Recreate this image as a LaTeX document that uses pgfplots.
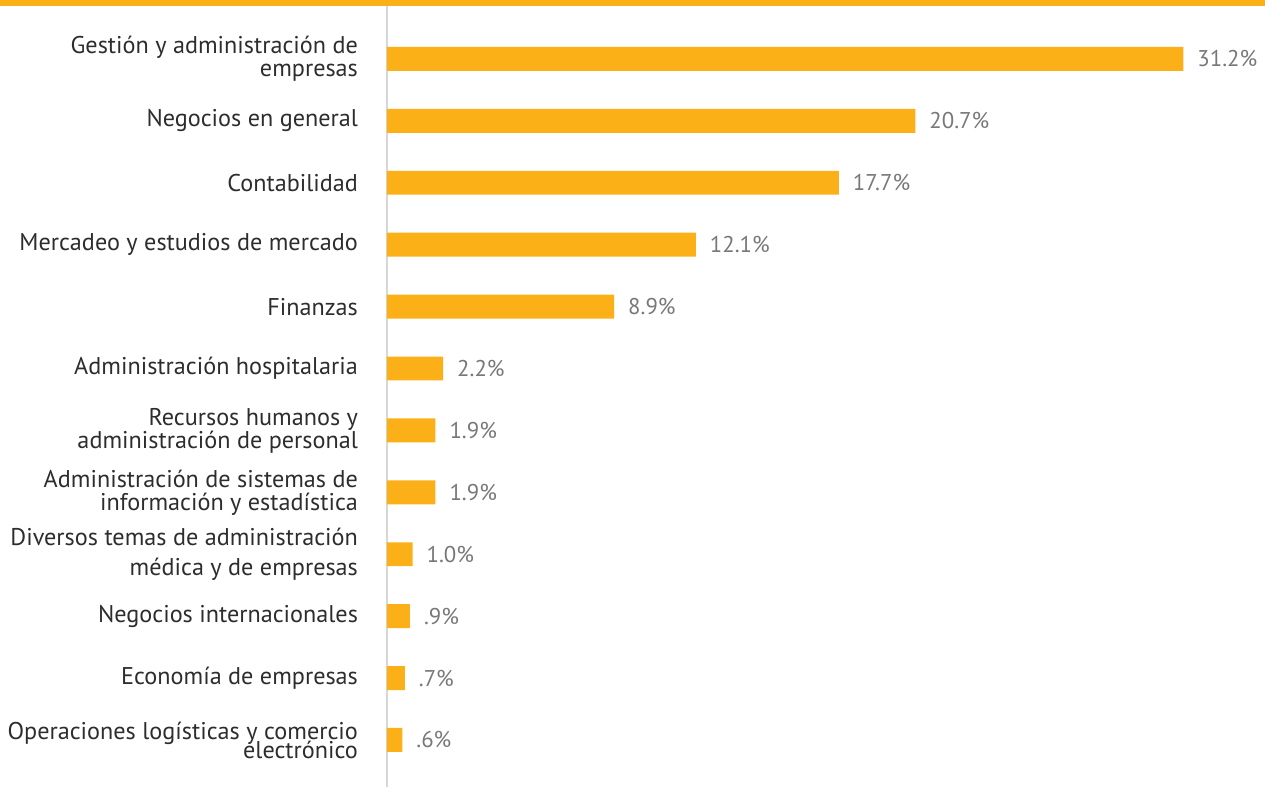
\documentclass[border=0pt]{standalone}
\usepackage{fontspec}
\setmainfont{PT Sans}
\usepackage{pgfplots}
\pgfplotsset{compat=1.18}
\definecolor{barorange}{RGB}{251,176,23}
\definecolor{labeltext}{RGB}{45,45,45}
\definecolor{valtext}{RGB}{120,120,120}
\definecolor{axisgray}{RGB}{215,215,215}

\begin{document}
\begin{tikzpicture}
\useasboundingbox (0,0) rectangle (632.5pt,-393.5pt);
\fill[barorange] (0,0) rectangle (632.5pt,-3pt);
\begin{axis}[
  at={(193.5pt,-3pt)}, anchor=north west,
  scale only axis, width=439pt, height=390.5pt,
  xbar, bar width=0.387, bar shift=0pt,
  xmin=0, xmax=34.4,
  ymin=-0.855, ymax=11.76, y dir=reverse,
  axis x line=none, axis y line=left,
  axis line style={axisgray, line width=0.6pt, -},
  ytick={0,...,11}, major tick length=0pt,
  yticklabels={
    {Gestión y administración de\\empresas},
    {Negocios en general},
    {Contabilidad},
    {Mercadeo y estudios de mercado},
    {Finanzas},
    {Administración hospitalaria},
    {Recursos humanos y\\administración de personal},
    {Administración de sistemas de\\información y estadística},
    {Diversos temas de administración\\[3.5pt]médica y de empresas},
    {Negocios internacionales},
    {Economía de empresas},
    {Operaciones logísticas y comercio\\[-2pt]electrónico}},
  yticklabel style={align=right, font=\fontsize{12.1}{11.5}\selectfont,
    text=labeltext, xshift=-11pt},
  point meta=explicit symbolic,
  nodes near coords,
  nodes near coords style={anchor=west, xshift=3.5pt,
    font=\fontsize{11.4}{12}\selectfont, text=valtext},
  clip=false,
]
\addplot[fill=barorange, draw=none] coordinates {
  (31.2,0) [31.2\%]
  (20.7,1) [20.7\%]
  (17.7,2) [17.7\%]
  (12.1,3) [12.1\%]
  (8.9,4) [8.9\%]
  (2.2,5) [2.2\%]
  (1.9,6) [1.9\%]
  (1.9,7) [1.9\%]
  (1.0,8) [1.0\%]
  (0.9,9) [.9\%]
  (0.7,10) [.7\%]
  (0.6,11) [.6\%]
};
\end{axis}
\end{tikzpicture}
\end{document}
